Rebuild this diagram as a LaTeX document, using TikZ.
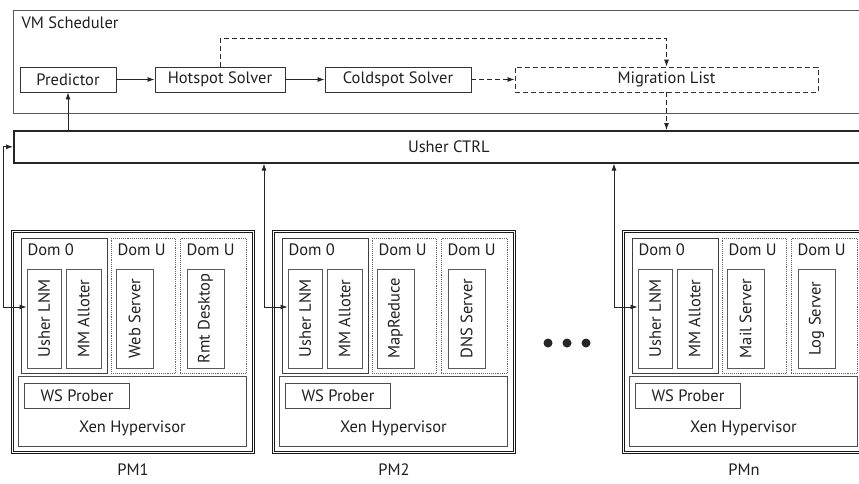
\documentclass[tikz,border=0pt]{standalone}
\usepackage{fontspec}
\setmainfont{PT Sans}
\usepackage{tikz}
\usetikzlibrary{arrows.meta,positioning}

\begin{document}
\begin{tikzpicture}[x=1pt, y=-1pt,
  every node/.style={font=\fontsize{16.5}{18}\selectfont, text=black!88},
  block/.style={draw=black!80, line width=0.9pt, minimum height=25, inner sep=0},
  frame/.style={draw=black!65, line width=1pt, anchor=north west, inner sep=0},
  pmbox/.style={draw=black!90, double, double distance=1.2pt, line width=1pt, anchor=north west, minimum width=241, minimum height=221, inner sep=0},
  dom0box/.style={draw=black!75, line width=0.9pt, anchor=north west, minimum height=135, inner sep=0},
  domubox/.style={dom0box, draw=black!60, densely dotted},
  vbox/.style={draw=black!65, line width=0.9pt, rotate=90, minimum width=99, minimum height=35, inner sep=0},
  hypbox/.style={draw=black!70, line width=0.9pt, anchor=north west, inner sep=0},
  conn/.style={draw=black!85, line width=0.8pt, -{Latex[length=7pt,width=5pt]}},
  biconn/.style={draw=black!85, line width=0.8pt, {Latex[length=7pt,width=5pt]}-{Latex[length=7pt,width=5pt]}},
  dashes/.style={dash pattern=on 5pt off 3pt}]
  \useasboundingbox (0,0) rectangle (859,483);
  \clip (0,0) rectangle (859,483);

  % VM scheduler
  \node[frame, minimum width=870, minimum height=103] (sched) at (13,10) {};
  \node[below right=3pt and 5pt of sched.north west] (schedlbl) {VM Scheduler};
  \node[block, minimum width=96] (pred) at (68,79.5) {Predictor};
  \node[block, minimum width=130] (hot) at (220,79.5) {Hotspot Solver};
  \node[block, minimum width=146] (cold) at (398,79.5) {Coldspot Solver};
  \node[block, dashes, minimum width=303] (mig) at (666.5,79.5) {Migration List};

  % controller
  \node[frame, draw=black!85, line width=1.6pt, minimum width=870, minimum height=32] (ctrl) at (13,130) {Usher CTRL};

  \draw[conn] (pred) -- (hot);
  \draw[conn] (hot) -- (cold);
  \draw[conn, dashes] (cold) -- (mig);
  \draw[conn, dashes] (hot.north) -- ++(0,-28) -| (mig.north);
  \draw[conn, dashes] (mig.south) -- (mig.south |- ctrl.north);
  \draw[conn] (pred.south |- ctrl.north) -- (pred.south);

  % physical machines
  \foreach \x/\i/\appa/\appb in {12/1/Web Server/Rmt Desktop, 273/2/MapReduce/DNS Server, 623/n/Mail Server/Log Server}{
    \node[pmbox] (pm\i) at (\x,231) {};
    \node[dom0box, minimum width=86] (dom0\i) at (\x+9,238) {};
    \node[domubox, minimum width=64] (domu\i) at (\x+99,238) {};
    \node[domubox, minimum width=66] (domv\i) at (\x+168,238) {};
    \node[below right=2pt and 3pt of dom0\i.north west] (d0lbl\i) {Dom 0};
    \node[below right=2pt and 3pt of domu\i.north west] (dulbl\i) {Dom U};
    \node[below right=2pt and 3pt of domv\i.north west] (dvlbl\i) {Dom U};
    \node[vbox, minimum height=34] (lnm\i) at (\x+32,318.5) {Usher LNM};
    \node[vbox] (mma\i) at (\x+71.5,318.5) {MM Alloter};
    \node[vbox, minimum height=37] (appa\i) at (\x+122.5,318.5) {\appa};
    \node[vbox, minimum height=37] (appb\i) at (\x+193.5,318.5) {\appb};
    \node[hypbox, minimum width=228, minimum height=70] (hyp\i) at (\x+6,376) {};
    \node[hypbox, minimum width=105, minimum height=25] (ws\i) at (\x+12,383) {WS Prober};
    \node[above=7pt of hyp\i.south] (hyplbl\i) {Xen Hypervisor};
    \node[below=7pt of pm\i] (pmlbl\i) {PM\i};
    \coordinate (tap\i) at (\x-9,307);
  }

  \draw[biconn] (ctrl.west) -| (tap1) -- (lnm1.north |- tap1);
  \draw[biconn] (tap2 |- ctrl.south) -- (tap2) -- (lnm2.north |- tap2);
  \draw[biconn] (tapn |- ctrl.south) -- (tapn) -- (lnmn.north |- tapn);

  % more machines
  \foreach \d in {1,2,3}
    \node[circle, fill=black!85, inner sep=0, minimum size=9] (dot\d) at (529+19*\d,343) {};
\end{tikzpicture}
\end{document}
